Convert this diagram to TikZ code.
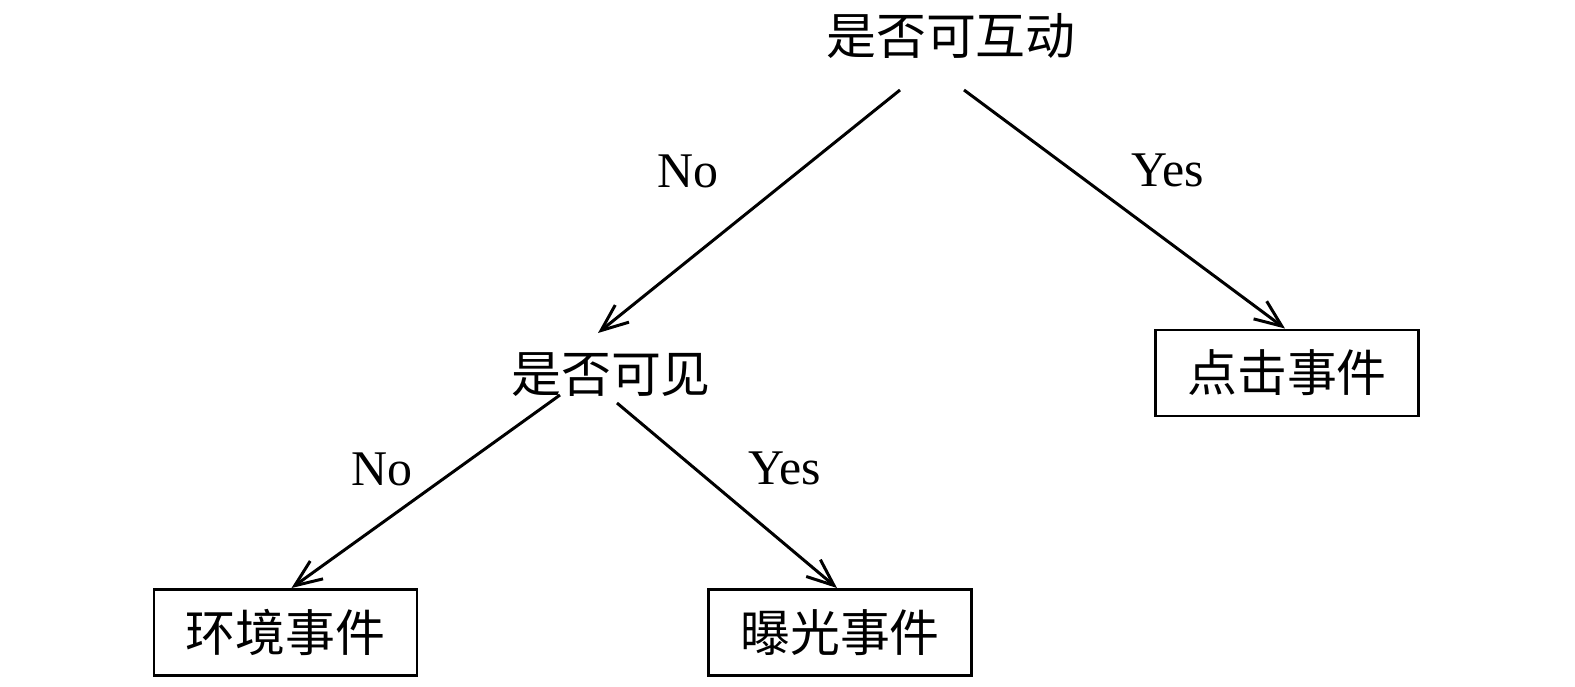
\documentclass[tikz,border=0pt]{standalone}
\usepackage{fontspec}
\setmainfont{Liberation Serif}
\newfontfamily\cjk{Noto Sans CJK SC}
\usetikzlibrary{positioning,arrows.meta}

\begin{document}
\begin{tikzpicture}[
query/.style={
  inner sep=0pt,
  font=\fontsize{14.2}{17}\selectfont\cjk
},
event/.style={
  draw,
  line width=0.85pt,
  minimum width=2.63cm,
  minimum height=0.86cm,
  inner sep=0pt,
  font=\fontsize{14.2}{17}\selectfont\cjk
},
answer/.style={
  inner sep=0pt,
  font=\fontsize{14.2}{17}\selectfont
},
branch/.style={
  line width=0.85pt,
  -{Straight Barb[length=2.7mm,width=2.2mm]}
}
]
\useasboundingbox (0,0) rectangle (15.75,6.86);

\node[query] at (9.51,6.505)
  (interact) {是否可互动};
\node[query] at (6.11,3.11)
  (visible) {是否可见};
\node[event] at (12.87,3.13)
  (click) {点击事件};
\node[event] at (2.855,0.535)
  (env) {环境事件};
\node[event] at (8.40,0.535)
  (expo) {曝光事件};

\node[answer] at (6.88,5.145) (no1) {No};
\node[answer] at (11.675,5.155) (yes1) {Yes};
\node[answer] at (3.815,2.17) (no2) {No};
\node[answer] at (7.85,2.175) (yes2) {Yes};

\draw[branch] ([shift={(-0.51,-0.545)}]interact.center) -- ([shift={(-0.13,0.42)}]visible.center);
\draw[branch] ([shift={(0.13,-0.545)}]interact.center) -- ([xshift=-0.2mm]click.north);
\draw[branch] ([shift={(-0.51,-0.20)}]visible.center) -- ([xshift=0.6mm]env.north);
\draw[branch] ([shift={(0.06,-0.28)}]visible.center) -- ([xshift=-0.3mm]expo.north);
\end{tikzpicture}
\end{document}
